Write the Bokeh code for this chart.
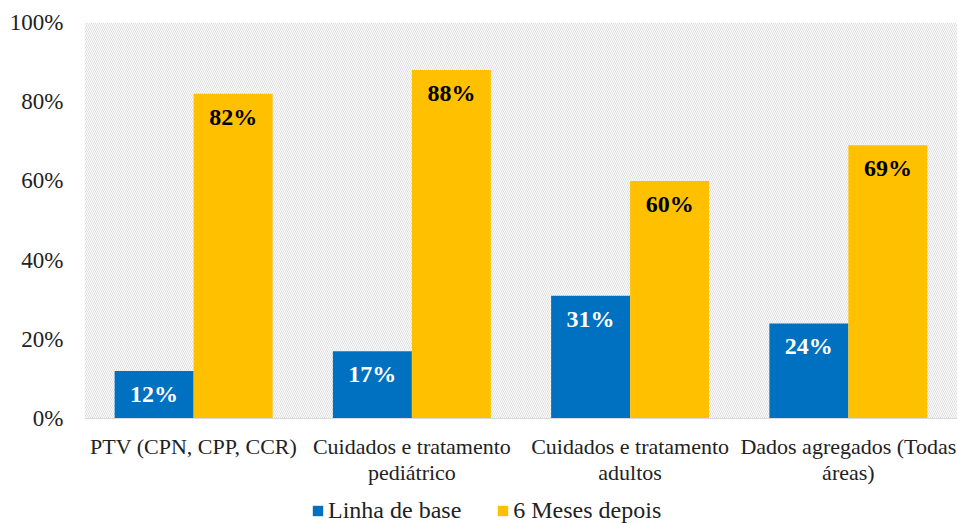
from bokeh.plotting import figure
from bokeh.models import (ColumnDataSource, FactorRange, NumeralTickFormatter, BoxAnnotation,
                          Legend, LegendItem, FixedTicker, Range1d, Span)
from bokeh.transform import dodge
from bokeh.core.properties import value
from bokeh.embed import file_html
from bokeh.resources import INLINE

categories = ["PTV (CPN, CPP, CCR)", "Cuidados e tratamento\npediátrico",
              "Cuidados e tratamento\nadultos", "Dados agregados (Todas\náreas)"]
baseline = [0.12, 0.17, 0.31, 0.24]
after6 = [0.82, 0.88, 0.60, 0.69]
series_names = ["Linha de base", "6 Meses depois"]
y_ticks = [0, 0.2, 0.4, 0.6, 0.8, 1.0]

FONT = "Liberation Serif"
BLUE = "#0070C0"
YELLOW = "#FFC000"

src = ColumnDataSource(dict(
    cat=categories, zero=[0] * len(categories), base=baseline, after=after6,
    base_lbl=[f"{round(v*100)}%" for v in baseline],
    after_lbl=[f"{round(v*100)}%" for v in after6],
))

# frame extends to the bottom of the canvas; value 0 sits 106 px above it
p = figure(width=957, height=524, x_range=FactorRange(*categories),
           y_range=Range1d(-106 / 396, 1),
           output_backend="svg", toolbar_location=None,
           min_border_left=84, min_border_top=22, min_border_right=0, min_border_bottom=0)
p.outline_line_color = None
p.background_fill_color = "white"
p.border_fill_color = "white"
p.grid.visible = False

p.add_layout(BoxAnnotation(bottom=0, fill_alpha=0, line_alpha=0, hatch_pattern="\\",
                           hatch_color="#dedede", hatch_scale=4, hatch_weight=1, level="underlay"))
p.add_layout(Span(location=0, dimension="width", line_color="#d9d9d9", line_width=1))

W = 0.362
r1 = p.vbar(x=dodge("cat", -W / 2, range=p.x_range), top="base", width=W, source=src,
            fill_color=BLUE, line_color=None)
r2 = p.vbar(x=dodge("cat", W / 2, range=p.x_range), top="after", width=W, source=src,
            fill_color=YELLOW, line_color=None)

p.text(x=dodge("cat", -W / 2, range=p.x_range), y="base", text="base_lbl", source=src,
       text_font=value(FONT), text_font_style="bold", text_font_size="24px",
       text_color="white", text_align="center", text_baseline="middle", y_offset=23)
p.text(x=dodge("cat", W / 2, range=p.x_range), y="after", text="after_lbl", source=src,
       text_font=value(FONT), text_font_style="bold", text_font_size="24px",
       text_color="black", text_align="center", text_baseline="middle", y_offset=23)

# category labels under the baseline
p.text(x="cat", y="zero", text="cat", source=src, text_font=value(FONT),
       text_font_size="22px", text_color="#222222", text_align="center",
       text_baseline="top", text_line_height=1.05, y_offset=15)

p.xaxis.visible = False

p.yaxis.ticker = FixedTicker(ticks=y_ticks)
p.yaxis.formatter = NumeralTickFormatter(format="0%")
p.yaxis.axis_line_color = None
p.yaxis.major_tick_line_color = None
p.yaxis.minor_tick_line_color = None
p.yaxis.major_label_text_font = FONT
p.yaxis.major_label_text_font_size = "23px"
p.yaxis.major_label_text_color = "#222222"
p.yaxis.major_label_standoff = 15

legend = Legend(items=[LegendItem(label=series_names[0], renderers=[r1]),
                       LegendItem(label=series_names[1], renderers=[r2])],
                orientation="horizontal", location=(227, 0),
                label_text_font=FONT, label_text_font_size="24px", label_text_color="#222222",
                glyph_width=13, glyph_height=13, label_standoff=4, spacing=35,
                border_line_color=None, background_fill_alpha=0, padding=0, margin=0)
p.add_layout(legend, "center")

open("out.html", "w").write(file_html(p, INLINE))
